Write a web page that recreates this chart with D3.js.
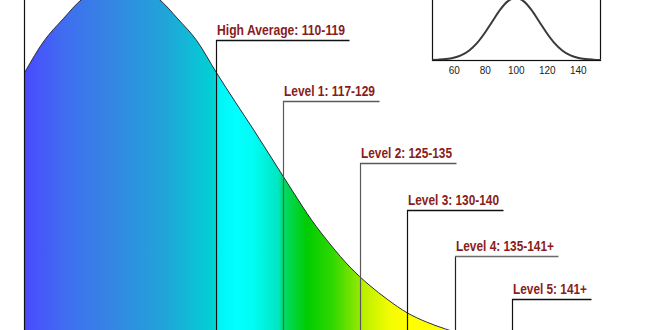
<!DOCTYPE html>
<html>
<head>
<meta charset="utf-8">
<script src="https://cdn.jsdelivr.net/npm/d3@7"></script>
<style>
  html, body { margin: 0; padding: 0; background: #fff; }
  svg { display: block; }
</style>
</head>
<body>
<svg id="chart" width="650" height="330"></svg>
<script>
// ---------- data ----------
const iqValues = [90, 92, 94, 96, 98, 100, 102, 104, 106, 108, 110, 112, 114, 116, 118, 120,
                  122, 124, 126, 128, 130, 132, 134, 136, 138, 140, 145, 150, 156];
const density = [79.4, 88.3, 94.6, 100.3, 103.1, 104.3, 103.1, 100.3, 94.6, 88.3, 79.4, 70.9,
                 62.6, 54.0, 45.4, 37.1, 30.0, 23.7, 18.6, 14.3, 10.6, 8.0, 6.0, 4.3, 3.1, 2.3,
                 1.1, 0.4, 0.15];

const labels = ["High Average: 110-119", "Level 1: 117-129", "Level 2: 125-135",
                "Level 3: 130-140", "Level 4: 135-141+", "Level 5: 141+"];
const cutoffs = [110, 117, 125, 130, 135, 141];

const insetValues = [46, 50, 55, 60, 65, 70, 75, 80, 85, 90, 95, 100, 105, 110, 115, 120,
                     125, 130, 135, 140, 145, 150, 155];
const insetDensity = [0.002, 0.006, 0.015, 0.036, 0.078, 0.154, 0.272, 0.435, 0.626, 0.812,
                      0.949, 1, 0.949, 0.812, 0.626, 0.435, 0.272, 0.154, 0.078, 0.036,
                      0.015, 0.006, 0.002];
const insetTicks = [60, 80, 100, 120, 140];

// ---------- styling / layout ----------
const gradIQ = [90, 94.4, 98.9, 104.9, 109.8, 110.1, 112, 113.9, 116.6, 116.9, 119.5, 122.2,
                124.9, 125.3, 128.2, 130.1, 156];
const gradColors = ["#4a4aff", "#3f6ff0", "#3585e4", "#1fa6d8", "#00d2d4", "#00f4f4", "#00ffff",
                    "#00fcf4", "#00e6c0", "#00dc70", "#00cc00", "#30d800", "#90e800", "#b8f000",
                    "#f4fc00", "#ffff00", "#ffff00"];
const labelLineY = [40, 101, 163, 210, 256, 299];
const labelWidths = [128, 91, 91, 91, 98, 74];
const lineColors = ["#111", "#5a5a5a", "#5a5a5a", "#111", "#222", "#111"];
const underlineColors = ["#111", "#5a5a5a", "#5a5a5a", "#111", "#6a6a6a", "#111"];

const W = 650, H = 330;
const svg = d3.select("#chart");

// ---------- scales ----------
const x = d3.scaleLinear().domain([90, 156]).range([24.9, 24.9 + 9.56 * 66]);
const y = d3.scaleLinear().domain([0, 100]).range([350, 0]);

// ---------- gradient ----------
const defs = svg.append("defs");
const x1 = x(90), x2 = x(156);
const grad = defs.append("linearGradient")
  .attr("id", "bell")
  .attr("gradientUnits", "userSpaceOnUse")
  .attr("x1", x1).attr("x2", x2).attr("y1", 0).attr("y2", 0);
grad.selectAll("stop").data(gradIQ).join("stop")
  .attr("offset", d => (x(d) - x1) / (x2 - x1))
  .attr("stop-color", (d, i) => gradColors[i]);

const pts = iqValues.map((v, i) => ({ v, h: density[i] }));

// area
svg.append("path")
  .datum(pts)
  .attr("fill", "url(#bell)")
  .attr("d", d3.area().x(d => x(d.v)).y0(y(0)).y1(d => y(d.h)).curve(d3.curveMonotoneX));

// curve outline
svg.append("path")
  .datum(pts)
  .attr("fill", "none")
  .attr("stroke", "#2b2b3a")
  .attr("stroke-width", 1)
  .attr("d", d3.line().x(d => x(d.v)).y(d => y(d.h)).curve(d3.curveMonotoneX));

// left boundary line
svg.append("line")
  .attr("x1", Math.round(x(90)) - 0.5).attr("x2", Math.round(x(90)) - 0.5)
  .attr("y1", 0).attr("y2", H)
  .attr("stroke", "#111").attr("stroke-width", 1.2);

// ---------- annotations ----------
const ann = svg.append("g");
cutoffs.forEach((c, i) => {
  const lx = Math.round(x(c)) + 0.5;
  const ly = labelLineY[i];
  ann.append("line")
    .attr("x1", lx).attr("x2", lx).attr("y1", ly).attr("y2", H)
    .attr("stroke", lineColors[i]).attr("stroke-width", 1.2);
  ann.append("text")
    .attr("x", lx + 0.5).attr("y", ly - 5)
    .attr("font-family", "'Liberation Sans Narrow', 'Arial Narrow', 'Liberation Sans', Arial, sans-serif")
    .attr("font-weight", "bold")
    .attr("font-size", 15)
    .attr("fill", "#8a1c1c")
    .attr("textLength", labelWidths[i])
    .attr("lengthAdjust", "spacingAndGlyphs")
    .text(labels[i]);
  ann.append("line")
    .attr("x1", lx - 0.5).attr("x2", lx + labelWidths[i] + 5)
    .attr("y1", ly + 0.5).attr("y2", ly + 0.5)
    .attr("stroke", underlineColors[i]).attr("stroke-width", 1.3);
});

// ---------- inset ----------
const ix = d3.scaleLinear().domain([46, 155]).range([432, 601]);
const iy = d3.scaleLinear().domain([0, 1]).range([60, -2]);
const inset = svg.append("g");
defs.append("clipPath").attr("id", "insetClip")
  .append("rect").attr("x", 432).attr("y", -10).attr("width", 169).attr("height", 70);

inset.append("rect")
  .attr("x", 432.5).attr("y", -10).attr("width", 168).attr("height", 70.5)
  .attr("fill", "#fff").attr("stroke", "#111").attr("stroke-width", 1.2);

inset.append("path")
  .datum(insetValues.map((v, i) => ({ v, h: insetDensity[i] })))
  .attr("clip-path", "url(#insetClip)")
  .attr("fill", "none")
  .attr("stroke", "#3a3a3a")
  .attr("stroke-width", 2)
  .attr("d", d3.line().x(d => ix(d.v)).y(d => iy(d.h)).curve(d3.curveMonotoneX));

const axis = inset.append("g")
  .attr("transform", "translate(0,60)")
  .call(d3.axisBottom(ix).tickValues(insetTicks).tickSize(0).tickPadding(7));
axis.select(".domain").remove();
axis.selectAll("text")
  .attr("font-family", "'Liberation Sans', Arial, sans-serif")
  .attr("font-size", 10)
  .attr("fill", "#222");
</script>
</body>
</html>
